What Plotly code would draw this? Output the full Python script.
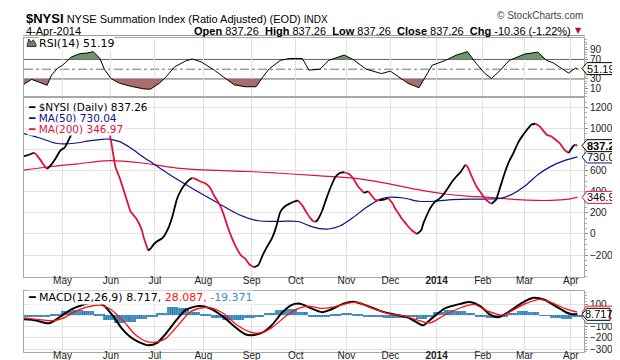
import pandas as pd
import plotly.graph_objects as go

# ---------------- data ----------------
holidays = ["2013-03-29", "2013-05-27", "2013-07-04", "2013-09-02", "2013-11-28",
            "2013-12-25", "2014-01-01", "2014-01-20", "2014-02-17"]

month_ticks = ["2013-05-01", "2013-06-03", "2013-07-01", "2013-08-01", "2013-09-03", "2013-10-01",
               "2013-11-01", "2013-12-02", "2014-01-02", "2014-02-03", "2014-03-03", "2014-04-01"]
month_labels = ["May", "Jun", "Jul", "Aug", "Sep", "Oct", "Nov", "Dec", "<b>2014</b>", "Feb", "Mar", "Apr"]

nysi_dates = ["2013-04-05", "2013-04-09", "2013-04-12", "2013-04-15", "2013-04-17", "2013-04-19", "2013-04-22",
              "2013-04-24", "2013-04-26", "2013-04-30", "2013-05-02", "2013-05-06", "2013-05-08", "2013-05-10",
              "2013-05-14", "2013-05-17", "2013-05-21", "2013-05-23", "2013-05-29", "2013-05-31", "2013-06-03",
              "2013-06-04", "2013-06-05", "2013-06-07", "2013-06-11", "2013-06-13", "2013-06-14", "2013-06-18",
              "2013-06-19", "2013-06-21", "2013-06-24", "2013-06-26", "2013-06-27", "2013-06-28", "2013-07-02",
              "2013-07-05", "2013-07-08", "2013-07-10", "2013-07-12", "2013-07-16", "2013-07-18", "2013-07-22",
              "2013-07-24", "2013-07-25", "2013-07-29", "2013-07-31", "2013-08-02", "2013-08-06", "2013-08-08",
              "2013-08-12", "2013-08-14", "2013-08-16", "2013-08-20", "2013-08-22", "2013-08-26", "2013-08-28",
              "2013-08-30", "2013-09-04", "2013-09-06", "2013-09-10", "2013-09-12", "2013-09-16", "2013-09-18",
              "2013-09-20", "2013-09-24", "2013-09-26", "2013-09-30", "2013-10-02", "2013-10-04", "2013-10-08",
              "2013-10-10", "2013-10-11", "2013-10-14", "2013-10-15", "2013-10-17", "2013-10-21", "2013-10-23",
              "2013-10-25", "2013-10-29", "2013-10-31", "2013-11-04", "2013-11-06", "2013-11-08", "2013-11-13",
              "2013-11-15", "2013-11-19", "2013-11-20", "2013-11-22", "2013-11-26", "2013-11-29", "2013-12-03",
              "2013-12-04", "2013-12-06", "2013-12-09", "2013-12-11", "2013-12-12", "2013-12-16", "2013-12-18",
              "2013-12-20", "2013-12-23", "2013-12-24", "2013-12-27", "2013-12-31", "2014-01-03", "2014-01-07",
              "2014-01-09", "2014-01-13", "2014-01-15", "2014-01-17", "2014-01-22", "2014-01-23", "2014-01-27",
              "2014-01-29", "2014-01-31", "2014-02-04", "2014-02-06", "2014-02-07", "2014-02-11", "2014-02-13",
              "2014-02-18", "2014-02-20", "2014-02-24", "2014-02-26", "2014-02-28", "2014-03-04", "2014-03-06",
              "2014-03-10", "2014-03-12", "2014-03-17", "2014-03-19", "2014-03-21", "2014-03-25", "2014-03-27",
              "2014-03-31", "2014-04-02", "2014-04-03", "2014-04-04"]
nysi_vals = [735, 745, 770, 755, 700, 640, 616,
             660, 720, 790, 820, 900, 990, 1040,
             1080, 1110, 1120, 1080, 1020, 975, 890,
             760, 640, 530, 400, 270, 210, 160,
             130, 40, -40, -158, -140, -110, -70,
             -45, -25, 50, 170, 330, 420, 480,
             520, 531, 515, 495, 478, 440, 360,
             295, 200, 70, -40, -130, -200, -235,
             -290, -316, -295, -200, -120, -50, 60,
             210, 260, 285, 305, 319, 270, 200,
             140, 120, 115, 136, 220, 340, 450,
             540, 578, 585, 570, 530, 460, 389,
             405, 350, 325, 318, 325, 341, 290,
             246, 185, 152, 100, 73, 30, 0,
             35, 100, 150, 240, 300, 330, 370,
             430, 495, 545, 590, 655, 640, 545,
             455, 395, 335, 298, 287, 325, 450,
             580, 690, 770, 863, 930, 985, 1036,
             1045, 1018, 941, 926, 895, 860, 800,
             768, 831, 847, 837.26]

ma50_dates = ["2013-04-05", "2013-04-16", "2013-04-26", "2013-05-03", "2013-05-10", "2013-05-17", "2013-05-24",
              "2013-05-31", "2013-06-07", "2013-06-14", "2013-06-21", "2013-06-28", "2013-07-12", "2013-07-26",
              "2013-08-09", "2013-08-23", "2013-09-06", "2013-09-20", "2013-10-02", "2013-10-09", "2013-10-16",
              "2013-10-22", "2013-10-29", "2013-11-06", "2013-11-14", "2013-11-22", "2013-11-29", "2013-12-10",
              "2013-12-19", "2013-12-31", "2014-01-13", "2014-01-24", "2014-02-03", "2014-02-13", "2014-02-21",
              "2014-03-03", "2014-03-11", "2014-03-19", "2014-03-27", "2014-04-04"]
ma50_vals = [955, 915, 860, 855, 865, 882, 895,
             900, 875, 815, 740, 670, 545, 420,
             300, 185, 125, 120, 118, 79, 50,
             47, 75, 155, 250, 325, 348, 341,
             310, 310, 325, 331, 331, 338, 373,
             452, 562, 641, 695, 730.04]

ma200_dates = ["2013-04-05", "2013-04-22", "2013-05-10", "2013-05-31", "2013-06-21", "2013-07-16", "2013-08-09",
               "2013-08-30", "2013-09-18", "2013-10-11", "2013-11-05", "2013-11-26", "2013-12-18", "2014-01-08",
               "2014-01-24", "2014-02-04", "2014-02-13", "2014-02-26", "2014-03-10", "2014-03-19", "2014-03-31",
               "2014-04-04"]
ma200_vals = [603, 635, 665, 695, 673, 625, 602,
              592, 578, 555, 531, 485, 422, 379,
              357, 350, 338, 325, 318, 318, 331,
              346.97]

rsi_dates = ["2013-04-05", "2013-04-11", "2013-04-16", "2013-04-22", "2013-04-24", "2013-04-29", "2013-05-01",
             "2013-05-07", "2013-05-13", "2013-05-16", "2013-05-21", "2013-05-24", "2013-05-29", "2013-06-03",
             "2013-06-07", "2013-06-14", "2013-06-24", "2013-06-27", "2013-07-03", "2013-07-09", "2013-07-15",
             "2013-07-22", "2013-07-25", "2013-07-31", "2013-08-08", "2013-08-15", "2013-08-21", "2013-08-28",
             "2013-09-05", "2013-09-10", "2013-09-13", "2013-09-20", "2013-09-26", "2013-10-04", "2013-10-09",
             "2013-10-16", "2013-10-22", "2013-10-31", "2013-11-06", "2013-11-14", "2013-11-19", "2013-11-25",
             "2013-12-02", "2013-12-09", "2013-12-12", "2013-12-19", "2013-12-24", "2013-12-30", "2014-01-08",
             "2014-01-15", "2014-01-23", "2014-01-29", "2014-02-04", "2014-02-07", "2014-02-13", "2014-02-20",
             "2014-03-03", "2014-03-11", "2014-03-17", "2014-03-20", "2014-03-26", "2014-03-31", "2014-04-03",
             "2014-04-04"]
rsi_vals = [18, 29, 24, 17, 38, 53, 58,
            75, 82, 83, 86, 72, 50, 31,
            21, 15, 9.5, 9, 21, 34, 55,
            67, 71, 65, 48, 31, 18, 14,
            14, 34, 51, 68, 72, 72, 48,
            50, 68, 79, 70, 50, 46, 41,
            46, 31, 21, 12, 34, 58, 68,
            79, 86, 62, 41, 31, 48, 68,
            81, 85, 68, 63, 51, 42, 52,
            51.19]

macd_dates = ["2013-04-05", "2013-04-15", "2013-04-23", "2013-04-30", "2013-05-07", "2013-05-14", "2013-05-21",
              "2013-05-28", "2013-06-04", "2013-06-10", "2013-06-14", "2013-06-20", "2013-06-26", "2013-07-02",
              "2013-07-09", "2013-07-16", "2013-07-22", "2013-07-30", "2013-08-06", "2013-08-14", "2013-08-21",
              "2013-08-28", "2013-09-03", "2013-09-10", "2013-09-16", "2013-09-23", "2013-09-27", "2013-10-03",
              "2013-10-09", "2013-10-17", "2013-10-23", "2013-10-31", "2013-11-06", "2013-11-14", "2013-11-25",
              "2013-12-05", "2013-12-12", "2013-12-20", "2013-12-23", "2013-12-30", "2014-01-08", "2014-01-17",
              "2014-01-24", "2014-01-31", "2014-02-06", "2014-02-12", "2014-02-20", "2014-02-28", "2014-03-07",
              "2014-03-14", "2014-03-21", "2014-03-28", "2014-04-01", "2014-04-04"]
macd_vals = [-35, -46, -70, -12, 52, 92, 112,
             100, -7, -118, -195, -240, -266, -244,
             -162, -37, 48, 82, 62, -12, -97,
             -168, -177, -152, -90, 28, 91, 103,
             70, 28, 52, 106, 120, 88, 35,
             2, -20, -84, -88, -25, 63, 103,
             118, 80, 10, -17, 33, 112, 156,
             138, 82, 25, 12, 8.717]

sig_dates = ["2013-04-05", "2013-04-22", "2013-04-25", "2013-05-01", "2013-05-09", "2013-05-16", "2013-05-24",
             "2013-06-03", "2013-06-11", "2013-06-18", "2013-06-25", "2013-07-02", "2013-07-09", "2013-07-17",
             "2013-07-24", "2013-07-31", "2013-08-06", "2013-08-14", "2013-08-22", "2013-08-30", "2013-09-09",
             "2013-09-16", "2013-09-25", "2013-10-02", "2013-10-09", "2013-10-16", "2013-10-24", "2013-11-05",
             "2013-11-08", "2013-11-19", "2013-11-29", "2013-12-10", "2013-12-20", "2013-12-27", "2014-01-08",
             "2014-01-17", "2014-01-28", "2014-02-05", "2014-02-14", "2014-02-25", "2014-03-04", "2014-03-12",
             "2014-03-19", "2014-03-28", "2014-04-04"]
sig_vals = [-22, -46, -48, -28, 37, 72, 91,
            52, -58, -171, -231, -237, -205, -78,
            30, 65, 68, 18, -82, -147, -157,
            -112, 0, 60, 82, 62, 73, 112,
            114, 60, 15, -5, -52, -67, 5,
            67, 97, 40, 2, 60, 108, 141,
            115, 55, 28.087]

hist_dates = ["2013-04-05", "2013-04-12", "2013-04-19", "2013-04-26", "2013-05-03", "2013-05-10", "2013-05-17",
              "2013-05-24", "2013-05-31", "2013-06-07", "2013-06-14", "2013-06-21", "2013-06-28", "2013-07-05",
              "2013-07-12", "2013-07-19", "2013-07-26", "2013-08-02", "2013-08-09", "2013-08-16", "2013-08-23",
              "2013-08-30", "2013-09-06", "2013-09-13", "2013-09-20", "2013-09-27", "2013-10-04", "2013-10-11",
              "2013-10-18", "2013-10-25", "2013-11-01", "2013-11-08", "2013-11-15", "2013-11-22", "2013-11-29",
              "2013-12-06", "2013-12-13", "2013-12-20", "2013-12-27", "2014-01-03", "2014-01-10", "2014-01-17",
              "2014-01-24", "2014-01-31", "2014-02-07", "2014-02-14", "2014-02-21", "2014-02-28", "2014-03-07",
              "2014-03-14", "2014-03-21", "2014-03-28", "2014-04-04"]
hist_vals = [-13, -8, -15, 15, 42, 48, 35,
             5, -38, -72, -55, -30, -15, 25,
             72, 62, 28, 8, -22, -38, -45,
             -28, -10, 25, 50, 58, 28, -12,
             -18, 8, 18, 8, -10, -18, -25,
             -22, -18, -32, -10, 28, 45, 35,
             20, -8, -25, -12, 25, 38, 30,
             2, -22, -30, -19.371]

last_close = 837.26

# ---------------- trading-day axis ----------------
days = pd.bdate_range("2013-03-01", "2014-04-30")
days = days[~days.isin(pd.to_datetime(holidays))]


def X(ds):
    return [int(days.searchsorted(pd.Timestamp(d))) for d in ds]


END = X(["2014-04-04"])[0]
xr = [END - 251.5, END + 3.0]
tickpos = X(month_ticks)
YEARPOS = X(["2014-01-02"])[0]

RED = "#e0103c"
NAVY = "#10108c"
CRIMSON = "#dc143c"
FONT = "Liberation Sans"
LEG = "DejaVu Sans"

fig = go.Figure()

# ---------------- RSI panel ----------------
rx = X(rsi_dates)


def clipped(xs, ys, level, above):
    px, py = [], []
    for i in range(len(xs)):
        if i > 0:
            y0, y1 = ys[i - 1], ys[i]
            if (y0 - level) * (y1 - level) < 0:
                t = (level - y0) / (y1 - y0)
                px.append(xs[i - 1] + t * (xs[i] - xs[i - 1]))
                py.append(level)
        py.append(max(ys[i], level) if above else min(ys[i], level))
        px.append(xs[i])
    return px + [px[-1], px[0]], py + [level, level]


for lvl, above, col in [(70, True, "rgba(95,138,95,0.9)"), (30, False, "rgba(160,95,95,0.9)")]:
    fx, fy = clipped(rx, rsi_vals, lvl, above)
    fig.add_trace(go.Scatter(x=fx, y=fy, mode="lines", fill="toself", fillcolor=col,
                             line=dict(width=0), xaxis="x", yaxis="y", hoverinfo="skip"))
fig.add_trace(go.Scatter(x=rx, y=rsi_vals, mode="lines", line=dict(color="black", width=1),
                         xaxis="x", yaxis="y"))

# ---------------- main panel ----------------
fig.add_trace(go.Scatter(x=X(ma200_dates), y=ma200_vals, mode="lines", line=dict(color=CRIMSON, width=1.2,
                         shape="spline", smoothing=0.8), xaxis="x2", yaxis="y2"))
fig.add_trace(go.Scatter(x=X(ma50_dates), y=ma50_vals, mode="lines", line=dict(color=NAVY, width=1.2,
                         shape="spline", smoothing=0.8), xaxis="x2", yaxis="y2"))

nx = X(nysi_dates)
runs = []
for i in range(1, len(nx)):
    c = "black" if nysi_vals[i] >= nysi_vals[i - 1] else RED
    if runs and runs[-1][0] == c:
        runs[-1][1].append(nx[i])
        runs[-1][2].append(nysi_vals[i])
    else:
        runs.append([c, [nx[i - 1], nx[i]], [nysi_vals[i - 1], nysi_vals[i]]])
for c, xs, ys in runs:
    fig.add_trace(go.Scatter(x=xs, y=ys, mode="lines", line=dict(color=c, width=1.8, shape="spline", smoothing=0.5),
                             xaxis="x2", yaxis="y2"))

# ---------------- MACD panel ----------------
fig.add_trace(go.Bar(x=X(hist_dates), y=hist_vals, width=5, xaxis="x3", yaxis="y3",
                     marker=dict(color="#3f8ec2", line=dict(width=0),
                                 pattern=dict(shape="|", size=2.2, solidity=0.35, fgcolor="#1b4f7a",
                                              bgcolor="#4c9bd0"))))
fig.add_trace(go.Scatter(x=X(macd_dates), y=macd_vals, mode="lines",
                         line=dict(color="black", width=2, shape="spline", smoothing=0.8), xaxis="x3", yaxis="y3"))
fig.add_trace(go.Scatter(x=X(sig_dates), y=sig_vals, mode="lines",
                         line=dict(color="#ff1010", width=1.3, shape="spline", smoothing=0.8), xaxis="x3", yaxis="y3"))

# ---------------- axes ----------------
GRID = "#e2e2e2"
BORDER = "#a8a8a8"
xbase = dict(range=xr, tickvals=tickpos, ticktext=month_labels, showgrid=True, gridcolor=GRID, gridwidth=1,
             showline=True, linecolor=BORDER, mirror=True, ticks="", ticklen=0, zeroline=False, automargin=False,
             ticklabelstandoff=-6,
             tickfont=dict(family=FONT, size=10, color="#222"))
ybase = dict(side="right", showline=True, linecolor=BORDER, mirror=True, zeroline=False, automargin=False,
             ticks="outside", ticklen=3, tickcolor="#888", gridcolor=GRID,
             tickfont=dict(family=FONT, size=10, color="#222"))

fig.update_layout(
    width=620, height=360, margin=dict(l=16, r=44, t=30, b=16, autoexpand=False),
    paper_bgcolor="white", plot_bgcolor="white", showlegend=False, bargap=0,
    xaxis=dict(xbase, anchor="y", showticklabels=False),
    xaxis2=dict(xbase, anchor="y2", matches="x"),
    xaxis3=dict(xbase, anchor="y3", matches="x"),
    yaxis=dict(ybase, domain=[0.8153, 1.0], range=[-5, 114], tickvals=[10, 30, 70, 90], showgrid=False,
               minor=dict(ticks="outside", ticklen=2, dtick=5, tickcolor="#aaa")),
    yaxis2=dict(ybase, domain=[0.2389, 0.8089], range=[-408, 1289],
                tickvals=[-200, 0, 200, 400, 600, 1000, 1200],
                minor=dict(ticks="outside", ticklen=2, dtick=50, tickcolor="#aaa")),
    yaxis3=dict(ybase, domain=[0.0, 0.1943], range=[-326, 216], tickvals=[-300, -200, -100, 100],
                minor=dict(ticks="outside", ticklen=2, dtick=25, tickcolor="#aaa")),
)

shapes = []
# RSI reference lines
for lvl in (70, 30):
    shapes.append(dict(type="line", xref="x domain", yref="y", x0=0, x1=1, y0=lvl, y1=lvl,
                       line=dict(color="#606060", width=1), layer="below"))
shapes.append(dict(type="line", xref="x domain", yref="y", x0=0, x1=1, y0=50, y1=50,
                   line=dict(color="#707070", width=1, dash="dashdot"), layer="below"))
# horizontal grid line at 800 and MACD zero (their labels are hidden by the value tags)
shapes.append(dict(type="line", xref="x2 domain", yref="y2", x0=0, x1=1, y0=800, y1=800,
                   line=dict(color=GRID, width=1), layer="below"))
shapes.append(dict(type="line", xref="x3 domain", yref="y3", x0=0, x1=1, y0=0, y1=0,
                   line=dict(color=GRID, width=1), layer="below"))
# year separators
for xa, ya in (("x", "y"), ("x2", "y2"), ("x3", "y3")):
    shapes.append(dict(type="line", xref=xa, yref=ya + " domain", x0=YEARPOS, x1=YEARPOS, y0=0, y1=1,
                       line=dict(color="#9a9a9a", width=1), layer="below"))
# header rule
shapes.append(dict(type="line", xref="paper", yref="paper", x0=-0.002, x1=1.002, y0=(344 - 27.5) / 314,
                   y1=(344 - 27.5) / 314, line=dict(color="#9a9a9a", width=1)))

annotations = []


def tag(yref, value, text, color, width, bold=False):
    tip = (574 - 16) / 560
    shapes.append(dict(type="path", xref="paper", yref=yref, xsizemode="pixel", ysizemode="pixel",
                       xanchor=tip, yanchor=value,
                       path="M0,0 L5,6 L%d,6 L%d,-6 L5,-6 Z" % (width, width),
                       fillcolor="white", line=dict(color=color, width=1), layer="above"))
    if text:
        t = "<b>%s</b>" % text if bold else text
        annotations.append(dict(xref="paper", yref=yref, x=tip + (5 + (width - 5) / 2) / 560, y=value, text=t,
                                showarrow=False, xanchor="center", yanchor="middle", borderpad=0,
                                font=dict(family=FONT, size=11, color="black")))


tag("y2", ma200_vals[-1], "%.2f" % ma200_vals[-1], CRIMSON, 39)
tag("y2", ma50_vals[-1], "%.2f" % ma50_vals[-1], NAVY, 38)
tag("y2", last_close, "%.2f" % last_close, "black", 39, bold=True)
tag("y", rsi_vals[-1], "%.2f" % rsi_vals[-1], "black", 32)
tag("y3", hist_vals[-1], "", "#2f79a8", 44)
tag("y3", sig_vals[-1], "", "#ff1010", 39)
tag("y3", macd_vals[-1], "%.3f" % macd_vals[-1], "black", 28)


def P(px, py):
    return (px - 16) / 560, (344 - py) / 314


# header
x0, y0 = P(16, 11)
annotations.append(dict(xref="paper", yref="paper", x=x0, y=y0, xanchor="left", yanchor="middle", showarrow=False,
                        text='<span style="font-size:13px"><b>$NYSI</b></span> NYSE Summation Index (Ratio Adjusted) (EOD) '
                             '<span style="font-size:10px">INDX</span>',
                        font=dict(family=FONT, size=11, color="black")))
x0, y0 = P(16, 22.5)
annotations.append(dict(xref="paper", yref="paper", x=x0, y=y0, xanchor="left", yanchor="middle", showarrow=False,
                        text="4-Apr-2014", font=dict(family=FONT, size=11, color="black")))
x0, y0 = P(565, 22.5)
annotations.append(dict(xref="paper", yref="paper", x=x0, y=y0, xanchor="right", yanchor="middle", showarrow=False,
                        text="<b>Open</b> 837.26  <b>High</b> 837.26  <b>Low</b> 837.26  <b>Close</b> 837.26  "
                             "<b>Chg</b> -10.36 (-1.22%)",
                        font=dict(family=FONT, size=11, color="black")))
x0, y0 = P(570.5, 22.5)
annotations.append(dict(xref="paper", yref="paper", x=x0, y=y0, xanchor="center", yanchor="middle", showarrow=False,
                        text="▼", font=dict(family=LEG, size=8, color="#b0102a")))
x0, y0 = P(577, 7.5)
annotations.append(dict(xref="paper", yref="paper", x=x0, y=y0, xanchor="right", yanchor="middle", showarrow=False,
                        text="© StockCharts.com", font=dict(family=FONT, size=10, color="#444")))

# panel legends
x0, y0 = P(30, 35.5)
annotations.append(dict(xref="paper", yref="paper", x=x0, y=y0, xanchor="left", yanchor="middle", showarrow=False,
                        text="RSI(14) 51.19", bgcolor="white", borderpad=0,
                        font=dict(family=LEG, size=11, color="black")))
ix, iy = P(19, 38.5)
ix2, iy2 = P(28, 31)
shapes.append(dict(type="path", xref="paper", yref="paper",
                   path="M%.4f,%.4f L%.4f,%.4f L%.4f,%.4f L%.4f,%.4f L%.4f,%.4f L%.4f,%.4f Z" % (
                       ix, iy, ix + (ix2 - ix) * 0.2, iy2, ix + (ix2 - ix) * 0.45, iy + (iy2 - iy) * 0.55,
                       ix + (ix2 - ix) * 0.7, iy + (iy2 - iy) * 0.9, ix2, iy + (iy2 - iy) * 0.3, ix2, iy),
                   fillcolor="#5f8c5f", line=dict(color="#333", width=1), layer="above"))

leg_rows = [(98.5, "black", "$NYSI (Daily) 837.26"),
            (109.5, NAVY, "MA(50) 730.04"),
            (120.5, CRIMSON, "MA(200) 346.97")]
for py, col, txt in leg_rows:
    x0, y0 = P(19, py)
    annotations.append(dict(xref="paper", yref="paper", x=x0, y=y0, xanchor="left", yanchor="middle",
                            showarrow=False, bgcolor="white", borderpad=0,
                            text='<b>━</b> ' + txt, font=dict(family=LEG, size=10.5, color=col)))

x0, y0 = P(19, 289.5)
annotations.append(dict(xref="paper", yref="paper", x=x0, y=y0, xanchor="left", yanchor="middle", showarrow=False,
                        bgcolor="white", borderpad=0,
                        text='<b>━</b> MACD(12,26,9) 8.717, <span style="color:#ff1010">28.087,</span> '
                             '<span style="color:#3a8fc4">-19.371</span>',
                        font=dict(family=LEG, size=11, color="black")))

fig.update_layout(shapes=shapes, annotations=annotations)
fig.write_html("out.html")
